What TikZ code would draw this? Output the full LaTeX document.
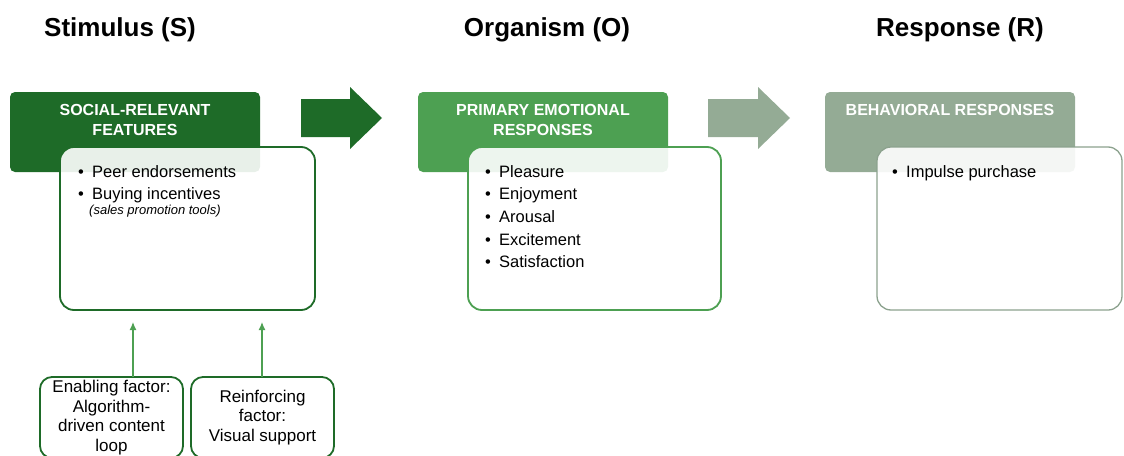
\documentclass[tikz,border=0pt]{standalone}
\usepackage{fontspec}
\setmainfont{Liberation Sans}
\usepackage{tikz}
\usetikzlibrary{arrows, arrows.meta, positioning}

\definecolor{dkgreen}{HTML}{1E6B28}
\definecolor{mdgreen}{HTML}{4DA052}
\definecolor{sage}{HTML}{94AB95}
\definecolor{sageline}{HTML}{8CA28E}

\newcommand{\bul}[1]{\makebox[14pt][l]{\textbullet}#1}

\tikzset{
  title/.style={font=\fontsize{26}{30}\selectfont\bfseries, anchor=base, inner sep=0pt},
  hdr/.style={fill=#1, rounded corners=5pt, minimum width=250pt, minimum height=80pt,
    anchor=north west, inner sep=0pt, outer sep=0pt},
  hdrtxt/.style={text=white, font=\fontsize{16}{20}\selectfont\bfseries, align=center, inner sep=0pt},
  listbox/.style={draw=#1, line width=1.8pt, fill=white, fill opacity=0.9, rounded corners=14pt,
    minimum height=163pt, anchor=north west, inner sep=0pt, outer sep=0pt},
  listtxt/.style={font=\fontsize{16.5}{22.7}\selectfont, align=left, anchor=north west, inner sep=0pt},
  note/.style={font=\fontsize{13}{15}\selectfont\itshape, anchor=base west, inner sep=0pt},
  factbox/.style={draw=dkgreen, line width=1.8pt, rounded corners=12pt, minimum width=143pt,
    minimum height=81pt, anchor=north west, align=center, inner sep=0pt, outer sep=0pt,
    font=\fontsize{17}{19.5}\selectfont},
  factarrow/.style={-{Latex[length=8pt, width=7pt]}, mdgreen, line width=1.3pt}
}

\begin{document}
\begin{tikzpicture}[x=1pt, y=-1pt]
  \useasboundingbox (0,0) rectangle (1124,455);

  \node[title] (stim) at (120,36) {Stimulus (S)};
  \node[title] (org) at (547,36) {Organism (O)};
  \node[title] (resp) at (960,36) {Response (R)};

  % stimulus
  \node[hdr=dkgreen] (feat) at (10,92) {};
  \node[hdrtxt, below=12pt of feat.north] (feattxt) {SOCIAL-RELEVANT\\FEATURES};
  \node[listbox=dkgreen, minimum width=255pt] (featbox) at (60,147) {};
  \node[listtxt] (featlist) at ([shift={(18,18)}]featbox.north west)
    {\bul{Peer endorsements}\\\bul{Buying incentives}};
  \node[note] (featnote) at ([shift={(29,67)}]featbox.north west) {(sales promotion tools)};

  \fill[dkgreen] (301,99) -- (350,99) -- (350,87) -- (382,118) -- (350,149) -- (350,137) -- (301,137) -- cycle;

  % organism
  \node[hdr=mdgreen] (emo) at (418,92) {};
  \node[hdrtxt, below=12pt of emo.north] (emotxt) {PRIMARY EMOTIONAL\\RESPONSES};
  \node[listbox=mdgreen, minimum width=253pt] (emobox) at (468,147) {};
  \node[listtxt] (emolist) at ([shift={(17,18)}]emobox.north west)
    {\bul{Pleasure}\\\bul{Enjoyment}\\\bul{Arousal}\\\bul{Excitement}\\\bul{Satisfaction}};

  \fill[sage] (708,99) -- (758,99) -- (758,87) -- (790,118) -- (758,149) -- (758,137) -- (708,137) -- cycle;

  % response
  \node[hdr=sage] (beh) at (825,92) {};
  \node[hdrtxt, below=12pt of beh.north] (behtxt) {BEHAVIORAL RESPONSES};
  \node[listbox=sageline, line width=1.3pt, minimum width=245pt] (behbox) at (877,147) {};
  \node[listtxt] (behlist) at ([shift={(15,18)}]behbox.north west) {\bul{Impulse purchase}};

  % factors
  \node[factbox] (enab) at (40,377) {Enabling factor:\\Algorithm-\\driven content\\loop};
  \node[factbox] (reinf) at (191,377) {Reinforcing\\factor:\\Visual support};
  \coordinate (enabtip) at (133,322);
  \coordinate (reinftip) at (262,322);
  \draw[factarrow] (enab.north -| enabtip) -- (enabtip);
  \draw[factarrow] (reinf.north -| reinftip) -- (reinftip);

\end{tikzpicture}
\end{document}
